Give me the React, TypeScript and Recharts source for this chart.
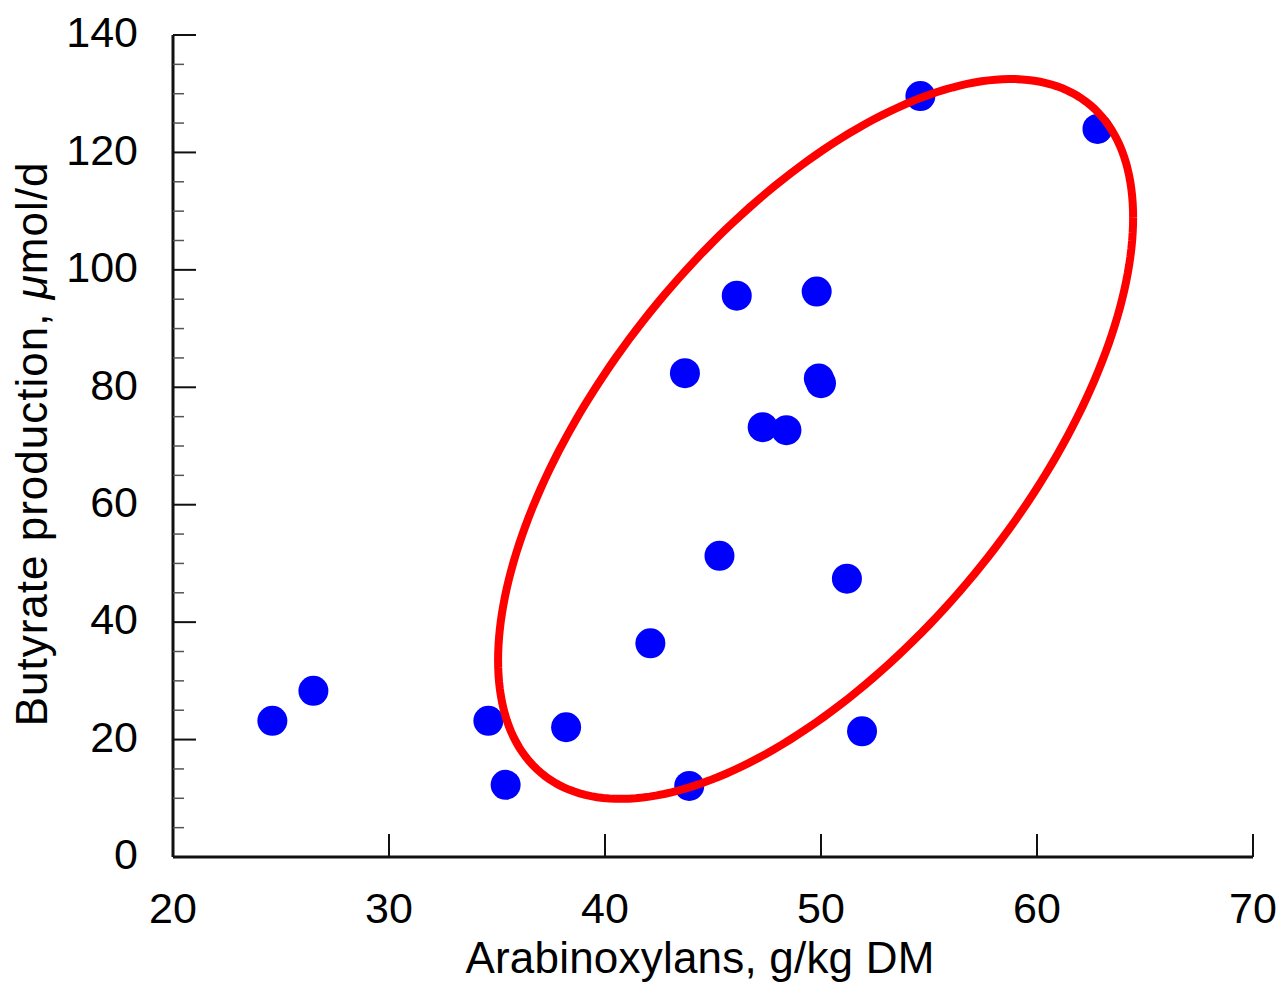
import { ScatterChart, Scatter, XAxis, YAxis } from "recharts";

// Arabinoxylan content (g/kg DM) and butyrate production (µmol/d) per sample
const arabinoxylans = [24.6, 26.5, 34.6, 35.4, 38.2, 42.1, 43.9, 43.7, 45.3, 46.1, 47.3, 48.4, 49.8, 49.9, 50.0, 51.2, 51.9, 54.6, 62.8];
const butyrate = [23.2, 28.3, 23.2, 12.3, 22.1, 36.4, 12.1, 82.4, 51.3, 95.6, 73.2, 72.7, 96.3, 81.5, 80.7, 47.4, 21.4, 129.6, 124.0];

const xTicks = [20, 30, 40, 50, 60, 70];
const yTicks = [0, 20, 40, 60, 80, 100, 120, 140];
const yMinorTicks = [0, 5, 10, 15, 20, 25, 30, 35, 40, 45, 50, 55, 60, 65, 70, 75, 80, 85, 90, 95, 100, 105, 110, 115, 120, 125, 130, 135, 140];

// grouping ellipse, in data units
const ellipseCenter = { x: 49.75, y: 71.2 };
const ellipseHalfRange = { x: 14.7, y: 61.3 };
const ellipseCorrelation = 0.615;

const points = arabinoxylans.map((x, i) => ({ x, y: butyrate[i] }));

const ellipseOutline = (() => {
  const phase = Math.acos(ellipseCorrelation);
  const steps = 240;
  const out: { x: number; y: number }[] = [];
  for (let i = 0; i <= steps; i++) {
    const t = (i / steps) * 2 * Math.PI;
    out.push({
      x: ellipseCenter.x + ellipseHalfRange.x * Math.cos(t),
      y: ellipseCenter.y + ellipseHalfRange.y * Math.cos(t - phase),
    });
  }
  return out;
})();

const FONT = "'Liberation Sans', Arial, Helvetica, sans-serif";
const AXIS = "#111";

const Dot = (props: any) => <circle cx={props.cx} cy={props.cy} r={15} fill="#0000ff" />;
const NoDot = () => <g />;
const NoLabel = () => <g />;

// inward y tick: long for labelled values, short for the 5-unit minor steps
const YTickMark = (props: any) => {
  const major = yTicks.includes(props.payload.value);
  return major ? (
    <line x1={props.x} x2={props.x + 23} y1={props.y} y2={props.y} stroke={AXIS} strokeWidth={2} />
  ) : (
    <line x1={props.x} x2={props.x + 11} y1={props.y} y2={props.y} stroke="#555" strokeWidth={1.5} />
  );
};

export default function App() {
  return (
    <div style={{ position: "absolute", left: 0, top: 0, background: "#fff" }}>
      <ScatterChart width={1283} height={987} margin={{ top: 35, right: 30, bottom: 30, left: 43 }}>
        <XAxis
          xAxisId="main"
          dataKey="x"
          type="number"
          domain={[20, 70]}
          ticks={xTicks}
          allowDataOverflow
          height={100}
          tickLine={false}
          tickSize={0}
          tickMargin={35}
          axisLine={{ stroke: AXIS, strokeWidth: 3 }}
          tick={{ fontSize: 43, fill: "#000", fontFamily: FONT }}
          label={{
            content: () => (
              <text x={700} y={973} textAnchor="middle" fontSize={44} fontFamily={FONT} fill="#000" letterSpacing={0.2}>
                Arabinoxylans, g/kg DM
              </text>
            ),
          }}
        />
        {/* inward tick marks */}
        <XAxis
          xAxisId="marks"
          dataKey="x"
          type="number"
          domain={[20, 70]}
          ticks={xTicks}
          allowDataOverflow
          mirror
          tick={NoLabel}
          axisLine={false}
          tickSize={23}
          tickLine={{ stroke: AXIS, strokeWidth: 2 }}
        />
        <YAxis
          yAxisId="main"
          dataKey="y"
          type="number"
          domain={[0, 140]}
          ticks={yTicks}
          allowDataOverflow
          width={130}
          tickLine={false}
          tickSize={0}
          tickMargin={35}
          axisLine={{ stroke: AXIS, strokeWidth: 3 }}
          tick={{ fontSize: 43, fill: "#000", fontFamily: FONT, dy: -3 }}
          label={{
            content: () => (
              <text
                x={47}
                y={444}
                transform="rotate(-90, 47, 444)"
                textAnchor="middle"
                fontSize={44}
                fontFamily={FONT}
                fill="#000"
                letterSpacing={1}
              >
                Butyrate production, <tspan fontStyle="italic">μ</tspan>mol/d
              </text>
            ),
          }}
        />
        <YAxis
          yAxisId="marks"
          dataKey="y"
          type="number"
          domain={[0, 140]}
          ticks={yMinorTicks}
          allowDataOverflow
          mirror
          axisLine={false}
          tickLine={false}
          tickSize={0}
          tickMargin={0}
          tick={YTickMark}
        />
        <Scatter
          xAxisId="main"
          yAxisId="main"
          data={points}
          shape={Dot}
          isAnimationActive={false}
        />
        <Scatter
          xAxisId="main"
          yAxisId="main"
          data={ellipseOutline}
          line={{ stroke: "#ff0000", strokeWidth: 8 }}
          lineType="joint"
          shape={NoDot}
          isAnimationActive={false}
        />
      </ScatterChart>
    </div>
  );
}
